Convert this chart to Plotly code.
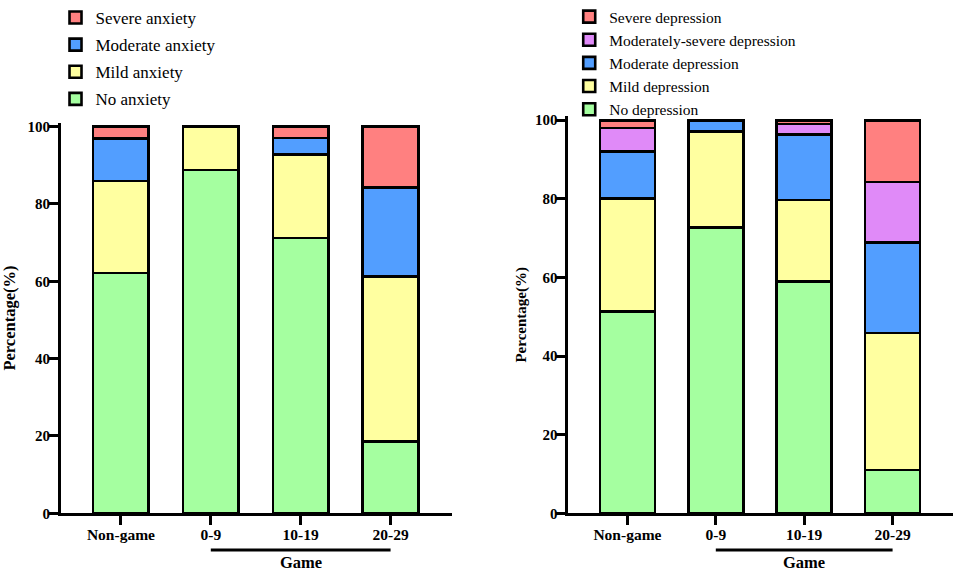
import plotly.graph_objects as go

categories = ["Non-game", "0-9", "10-19", "20-29"]
group_label = "Game"
y_title = "Percentage(%)"
y_ticks = [0, 20, 40, 60, 80, 100]

# Anxiety (left panel), percentages
anx_none = [62.2, 88.8, 71.2, 18.5]
anx_mild = [23.7, 11.2, 21.6, 42.7]
anx_moderate = [11.1, 0.0, 4.3, 23.0]
anx_severe = [3.0, 0.0, 2.9, 15.8]
anx_names = ["No anxiety", "Mild anxiety", "Moderate anxiety", "Severe anxiety"]

# Depression (right panel), percentages
dep_none = [51.3, 72.7, 58.9, 11.0]
dep_mild = [28.8, 24.4, 20.8, 34.9]
dep_moderate = [12.0, 2.9, 16.7, 23.0]
dep_modsevere = [5.9, 0.0, 2.6, 15.4]
dep_severe = [2.0, 0.0, 1.0, 15.7]
dep_names = ["No depression", "Mild depression", "Moderate depression",
             "Moderately-severe depression", "Severe depression"]

GREEN = "#A5FFA0"
YELLOW = "#FFFFA0"
BLUE = "#529EFF"
RED = "#FF8080"
PURPLE = "#E08AF8"

FONT = "Liberation Serif, Times New Roman, serif"
BAR_W = 0.62

fig = go.Figure()

anx_series = [anx_none, anx_mild, anx_moderate, anx_severe]
anx_colors = [GREEN, YELLOW, BLUE, RED]
n = len(anx_series)
for i, (vals, name, col) in enumerate(zip(anx_series, anx_names, anx_colors)):
    fig.add_trace(go.Bar(
        x=categories, y=vals, name=name, width=BAR_W,
        marker=dict(color=col, line=dict(color="black", width=2.6)),
        xaxis="x", yaxis="y", legend="legend", legendgroup="a%d" % i,
        legendrank=n - i, hoverinfo="name+y",
    ))

dep_series = [dep_none, dep_mild, dep_moderate, dep_modsevere, dep_severe]
dep_colors = [GREEN, YELLOW, BLUE, PURPLE, RED]
n = len(dep_series)
for i, (vals, name, col) in enumerate(zip(dep_series, dep_names, dep_colors)):
    fig.add_trace(go.Bar(
        x=categories, y=vals, name=name, width=BAR_W,
        marker=dict(color=col, line=dict(color="black", width=2.6)),
        xaxis="x2", yaxis="y2", legend="legend2", legendgroup="d%d" % i,
        legendrank=n - i, hoverinfo="name+y",
    ))

tickfont = dict(family=FONT, size=15.5, color="black", weight="bold")
xaxis_common = dict(
    type="category", range=[-0.667, 3.68], showgrid=False, zeroline=False,
    showline=True, linecolor="black", linewidth=3,
    ticks="outside", ticklen=9, tickwidth=3, tickcolor="black",
    tickfont=tickfont, fixedrange=True, automargin=False,
    ticklabelstandoff=-4,
)
yaxis_common = dict(
    range=[0, 101], tickvals=y_ticks, showgrid=False, zeroline=False,
    showline=True, linecolor="black", linewidth=3,
    ticks="outside", ticklen=9, tickwidth=3, tickcolor="black",
    tickfont=dict(family=FONT, size=15, color="black", weight="bold"),
    fixedrange=True, automargin=False, ticklabelstandoff=-4,
)

fig.update_layout(
    width=957, height=573,
    margin=dict(l=0, r=0, t=0, b=0),
    paper_bgcolor="white", plot_bgcolor="white",
    barmode="stack",
    showlegend=True,
    xaxis=dict(domain=[0.0637, 0.472], anchor="y", **xaxis_common),
    yaxis=dict(domain=[0.1042, 0.7857], anchor="x",
               title=dict(text=y_title, standoff=10,
                          font=dict(family=FONT, size=16.5, color="black", weight="bold")),
               **yaxis_common),
    xaxis2=dict(domain=[0.594, 0.9955], anchor="y2", **xaxis_common),
    yaxis2=dict(domain=[0.1042, 0.797], anchor="x2",
                title=dict(text=y_title, standoff=5,
                           font=dict(family=FONT, size=15, color="black", weight="bold")),
                **yaxis_common),
    legend=dict(x=0.058, y=1.0, xanchor="left", yanchor="top",
                traceorder="grouped", tracegroupgap=2,
                bgcolor="rgba(0,0,0,0)",
                font=dict(family=FONT, size=17, color="black")),
    legend2=dict(x=0.5948, y=1.0, xanchor="left", yanchor="top",
                 traceorder="grouped", tracegroupgap=0,
                 bgcolor="rgba(0,0,0,0)",
                 font=dict(family=FONT, size=15.5, color="black")),
)

# "Game" bracket under the gaming-time categories, for both panels
for xa in ["x", "x2"]:
    first = categories.index("0-9")
    last = categories.index("20-29")
    mid = categories.index("10-19")
    fig.add_shape(type="line", xref=xa, yref="paper",
                  x0=first, x1=last, y0=0.0401, y1=0.0401,
                  line=dict(color="black", width=3))
    fig.add_annotation(xref=xa, yref="paper", x=mid, y=0.0175,
                       text=group_label, showarrow=False,
                       font=dict(family=FONT, size=16.5, color="black", weight="bold"),
                       yanchor="middle")

fig.write_html("out.html", config={"displayModeBar": False},
               post_script="document.body.style.margin='0';document.body.style.overflow='hidden';")
